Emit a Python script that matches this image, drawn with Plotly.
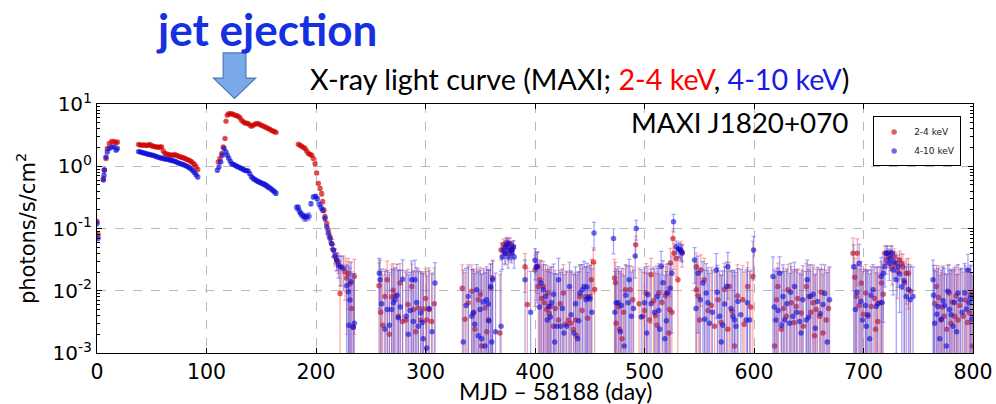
import plotly.graph_objects as go

# ---------------- MAXI light curve, 2-4 keV band ----------------
soft_day = [
    0.0, 1.0,
    5.8, 6.7, 8.2, 9.4, 11.2, 13.4, 15.5, 17.4, 18.6,
    38.0, 39.5, 41.0, 42.5, 44.0, 45.5, 47.0, 48.5, 50.0, 51.5, 53.0, 54.5, 56.0, 57.5, 59.0,
    60.5, 62.0, 63.5, 65.0, 66.5, 68.0, 69.5, 71.0, 72.5, 74.0, 75.5, 77.0, 78.5, 80.0, 81.5,
    83.0, 84.5, 86.0, 87.5, 89.0, 90.5, 92.0,
    110.8, 112.3, 113.9, 115.3, 116.9, 117.8, 119.0, 120.3, 121.7, 123.0, 124.5, 126.0, 127.5,
    129.0, 130.5, 132.0, 133.5, 135.0, 136.5, 138.0, 139.5, 141.0, 142.5, 144.0, 145.5, 147.0,
    148.5, 150.0, 151.5, 153.0, 154.5, 156.0, 157.5, 159.0, 160.5, 162.0, 163.5,
    183.9, 185.4, 186.9, 188.5, 190.0, 191.5, 193.0, 194.6, 196.1, 197.6, 199.1, 200.6, 202.1,
    203.7, 205.2, 206.1, 207.3, 208.2, 209.8, 211.2, 212.8, 214.3, 215.8, 217.4, 218.9, 220.4,
    222.0, 223.5, 226.5, 228.0, 229.5, 231.0, 232.6, 234.0, 235.0,
    257.5, 263.0, 265.0, 267.0, 269.0, 272.0, 275.2, 276.7, 279.0, 282.2, 287.4, 288.9, 293.5,
    295.6, 298.0, 301.1, 303.5, 305.6,
    333.6, 339.1, 342.2, 345.2, 348.2, 351.3, 354.3, 357.4, 359.5, 361.3, 369.0, 371.1, 373.0,
    375.0, 377.2, 379.0, 380.2, 390.9, 400.0, 403.0,
    404.6, 407.6, 408.5, 410.7, 411.5, 414.0, 416.7, 421.5, 425.9, 430.5, 432.8, 435.0, 437.0,
    438.0, 441.0, 446.0, 450.2, 451.5, 453.3,
    472.6, 473.5, 474.1, 477.2, 479.5, 482.8, 486.9, 489.3, 492.0, 498.5, 501.5, 504.6, 506.0,
    508.2, 511.5, 513.0, 519.2, 519.8, 522.2, 522.8, 523.7, 526.0, 527.0, 528.9, 530.5, 533.0, 534.4,
    547.2, 547.3, 550.3, 551.5, 554.5, 564.0, 567.1, 576.0, 577.5, 582.2, 589.7, 594.2, 599.0,
    618.8, 621.8, 624.9, 629.5, 631.0, 634.0, 638.5, 643.1, 645.0, 647.7, 650.0, 653.8, 655.3,
    656.8, 659.9, 663.0, 666.0,
    690.4, 693.5, 694.3, 698.0, 702.0, 704.0, 707.0, 711.0, 714.8, 716.3, 719.4, 721.0, 726.0,
    728.3, 729.6, 733.0, 736.0, 739.1, 741.0,
    766.6, 770.7, 773.7, 778.2, 779.8, 783.3, 786.3, 790.9, 796.9, 799.4,
]
soft_flux = [
    0.13, 0.08,
    0.63, 0.86, 1.33, 1.92, 2.31, 2.5, 2.5, 2.37, 2.45,
    2.23, 2.2, 2.17, 2.2, 2.17, 2.15, 2.2, 2.23, 2.12, 2.09, 2.06, 2.04, 2.02, 2.04, 2.03,
    1.75, 1.6, 1.57, 1.55, 1.52, 1.5, 1.52, 1.53, 1.5, 1.46, 1.42, 1.4, 1.37, 1.34, 1.3,
    1.27, 1.23, 1.19, 1.13, 1.07, 0.98, 0.89,
    1.17, 1.33, 1.6, 2.04, 2.78, 5.3, 6.6, 7.0, 6.9, 7.0, 6.8, 6.6, 6.5,
    6.35, 6.0, 5.5, 5.2, 4.96, 4.9, 4.84, 4.6, 4.39, 4.5, 4.72, 4.8, 4.84,
    4.7, 4.55, 4.45, 4.3, 4.2, 4.05, 3.95, 3.8, 3.7, 3.6, 3.5,
    2.25, 2.17, 2.09, 2.0, 1.92, 1.75, 1.6, 1.55, 1.5, 1.33, 1.1, 0.78, 0.53,
    0.44, 0.36, 0.27, 0.197, 0.154, 0.12, 0.094, 0.073, 0.057, 0.045, 0.035, 0.031, 0.029,
    0.009, 0.024, 0.02, 0.016, 0.019, 0.013, 0.0052, 0.0026, 0.017,
    0.012, 0.0081, 0.015, 0.002, 0.0079, 0.0083, 0.0039, 0.0133, 0.0032, 0.0034, 0.0117, 0.005, 0.0053,
    0.0034, 0.0051, 0.0034, 0.005, 0.0032,
    0.011, 0.0064, 0.0098, 0.0024, 0.0072, 0.0013, 0.0053, 0.0034, 0.011, 0.016, 0.045, 0.055, 0.04,
    0.05, 0.057, 0.045, 0.051, 0.0244, 0.0216, 0.0117,
    0.015, 0.0117, 0.0064, 0.005, 0.0092, 0.0056, 0.0027, 0.0034, 0.0092, 0.0034, 0.003, 0.0024, 0.0034,
    0.0019, 0.0081, 0.0081, 0.0081, 0.015, 0.029,
    0.016, 0.0135, 0.003, 0.0024, 0.0017, 0.0104, 0.0104, 0.0072, 0.055, 0.0039, 0.0092, 0.0034, 0.018,
    0.0069, 0.0028, 0.0092, 0.0083, 0.0092, 0.0021, 0.005, 0.028, 0.069, 0.04, 0.033, 0.015, 0.046, 0.04,
    0.0244, 0.0104, 0.0034, 0.0216, 0.015, 0.0027, 0.0072, 0.0024, 0.0117, 0.0013, 0.0072, 0.0117, 0.0169,
    0.0013, 0.0117, 0.0024, 0.0039, 0.0104, 0.0064, 0.0056, 0.0044, 0.0027, 0.0117, 0.0081, 0.0064, 0.0019,
    0.005, 0.0039, 0.0021, 0.0034,
    0.04, 0.0081, 0.04, 0.0133, 0.0092, 0.0039, 0.0056, 0.0024, 0.0064, 0.0133, 0.04, 0.0313, 0.0244,
    0.0353, 0.0276, 0.0313, 0.0244, 0.0191, 0.0191,
    0.0117, 0.0034, 0.0039, 0.0092, 0.003, 0.0039, 0.0034, 0.0039, 0.0044, 0.0013,
]
soft_err = [
    0.01, 0.01,
    0.04, 0.05, 0.06, 0.08, 0.09, 0.1, 0.1, 0.1, 0.1,
    0.08, 0.08, 0.08, 0.08, 0.08, 0.08, 0.08, 0.08, 0.08, 0.08, 0.08, 0.08, 0.08, 0.08, 0.08,
    0.07, 0.07, 0.07, 0.07, 0.07, 0.07, 0.07, 0.07, 0.07, 0.07, 0.06, 0.06, 0.06, 0.06, 0.06,
    0.06, 0.06, 0.05, 0.05, 0.05, 0.05, 0.05,
    0.06, 0.06, 0.07, 0.08, 0.1, 0.15, 0.15, 0.15, 0.15, 0.15, 0.15, 0.15, 0.15,
    0.15, 0.14, 0.14, 0.13, 0.13, 0.13, 0.13, 0.12, 0.12, 0.12, 0.12, 0.12, 0.12,
    0.12, 0.12, 0.11, 0.11, 0.11, 0.11, 0.1, 0.1, 0.1, 0.1, 0.1,
    0.08, 0.08, 0.08, 0.08, 0.07, 0.07, 0.07, 0.07, 0.07, 0.06, 0.05, 0.04, 0.03,
    0.03, 0.03, 0.02, 0.018, 0.015, 0.013, 0.012, 0.011, 0.01, 0.01, 0.01, 0.01, 0.01,
    0.012, 0.012, 0.013, 0.014, 0.014, 0.015, 0.015, 0.016, 0.015,
    0.016, 0.014, 0.015, 0.016, 0.018, 0.015, 0.017, 0.014, 0.018, 0.016, 0.015, 0.016, 0.017,
    0.016, 0.015, 0.017, 0.016, 0.015,
    0.015, 0.02, 0.016, 0.018, 0.015, 0.017, 0.016, 0.018, 0.016, 0.015, 0.014, 0.013, 0.014,
    0.013, 0.013, 0.014, 0.012, 0.015, 0.016, 0.017,
    0.016, 0.018, 0.015, 0.017, 0.016, 0.018, 0.016, 0.015, 0.017, 0.016, 0.018, 0.017, 0.015,
    0.016, 0.017, 0.016, 0.018, 0.017, 0.02,
    0.016, 0.015, 0.016, 0.018, 0.017, 0.016, 0.015, 0.017, 0.02, 0.016, 0.018, 0.016, 0.015,
    0.017, 0.016, 0.018, 0.016, 0.017, 0.016, 0.018, 0.02, 0.03, 0.018, 0.016, 0.02, 0.016, 0.016,
    0.016, 0.018, 0.017, 0.016, 0.018, 0.017, 0.016, 0.018, 0.017, 0.016, 0.018, 0.017, 0.045,
    0.015, 0.016, 0.018, 0.017, 0.016, 0.018, 0.016, 0.017, 0.018, 0.016, 0.018, 0.017, 0.016,
    0.017, 0.018, 0.016, 0.018,
    0.03, 0.018, 0.028, 0.016, 0.017, 0.018, 0.016, 0.017, 0.018, 0.016, 0.012, 0.013, 0.012,
    0.012, 0.013, 0.012, 0.014, 0.013, 0.014,
    0.014, 0.016, 0.015, 0.017, 0.016, 0.018, 0.015, 0.016, 0.017, 0.016,
]

# further faint 2-4 keV detections in the decay / hard-state period
soft_faint_day = [
    259.0, 261.0, 270.5, 284.0, 291.0, 300.0, 308.0,
    336.0, 344.0, 350.0, 356.0, 368.0, 374.0, 376.0, 378.0, 393.0,
    402.5, 406.0, 413.0, 418.5, 423.0, 428.0, 443.0, 448.0, 454.5,
    476.0, 481.0, 495.0, 500.0, 510.0, 516.0, 525.0,
    549.0, 558.0, 561.0, 570.0, 573.0, 580.0, 585.0, 591.0, 597.0,
    620.5, 627.0, 636.5, 640.0, 652.0, 661.5, 668.0,
    692.0, 696.0, 700.0, 710.0, 713.0, 718.0, 723.0, 725.0, 731.0, 734.5, 737.5, 743.0,
    765.0, 768.5, 772.0, 776.0, 781.0, 784.5, 788.0, 793.0, 795.0, 798.0,
]
soft_faint_flux = [
    0.0045, 0.0028, 0.0102, 0.006, 0.0022, 0.0075, 0.0062,
    0.0035, 0.0045, 0.0088, 0.0022, 0.0021, 0.06, 0.042, 0.048, 0.006,
    0.025, 0.0075, 0.0043, 0.0052, 0.0062, 0.0029, 0.0048, 0.0036, 0.0105,
    0.0055, 0.0045, 0.0062, 0.0048, 0.004, 0.0065, 0.0045,
    0.0082, 0.0048, 0.0058, 0.0031, 0.0105, 0.0047, 0.0082, 0.0029, 0.0055,
    0.0072, 0.0052, 0.0031, 0.0075, 0.0045, 0.0095, 0.0052,
    0.0165, 0.0058, 0.0042, 0.0075, 0.0032, 0.0088, 0.035, 0.041, 0.0205, 0.0275, 0.0135, 0.0098,
    0.0062, 0.0078, 0.0055, 0.0024, 0.0066, 0.0082, 0.0058, 0.0071, 0.0031, 0.0088,
]
soft_faint_err = [
    0.016, 0.015, 0.017, 0.016, 0.018, 0.015, 0.017,
    0.016, 0.018, 0.015, 0.017, 0.016, 0.012, 0.012, 0.012, 0.017,
    0.016, 0.017, 0.018, 0.016, 0.015, 0.017, 0.018, 0.016, 0.017,
    0.016, 0.018, 0.017, 0.015, 0.016, 0.018, 0.017,
    0.017, 0.016, 0.018, 0.015, 0.017, 0.016, 0.018, 0.017, 0.016,
    0.016, 0.018, 0.017, 0.015, 0.016, 0.017, 0.018,
    0.017, 0.016, 0.018, 0.017, 0.016, 0.018, 0.012, 0.012, 0.013, 0.012, 0.014, 0.016,
    0.016, 0.017, 0.018, 0.016, 0.015, 0.017, 0.016, 0.018, 0.017, 0.016,
]

# ---------------- MAXI light curve, 4-10 keV band ----------------
hard_day = [
    0.0, 1.0,
    5.8, 6.4, 6.7, 8.2, 9.4, 11.2, 13.4, 15.5, 17.4, 18.6,
    38.0, 39.5, 41.0, 42.5, 44.0, 45.5, 47.0, 48.5, 50.0, 51.5, 53.0, 54.5, 56.0, 57.5, 59.0,
    60.5, 62.0, 63.5, 65.0, 66.5, 68.0, 69.5, 71.0, 72.5, 74.0, 75.5, 77.0, 78.5, 80.0, 81.5,
    83.0, 84.5, 86.0, 87.5, 89.0, 90.5, 92.0,
    109.9, 111.4, 113.0, 114.4, 116.0, 117.8, 119.0, 120.3, 121.7, 123.0, 124.5, 126.0, 127.5,
    129.0, 130.5, 132.0, 133.5, 135.0, 136.5, 138.0, 139.5, 141.0, 142.5, 144.0, 145.5, 147.0,
    148.5, 150.0, 151.5, 153.0, 154.5, 156.0, 157.5, 159.0, 160.5, 162.0, 163.5,
    182.3, 183.9, 184.8, 186.0, 187.5, 189.0, 190.3, 191.5, 193.6, 195.4, 197.6, 199.7, 201.2,
    203.0, 204.6, 206.1, 208.2, 209.8, 211.2, 212.8, 214.3, 215.8, 217.4, 218.9, 220.5,
    222.0, 225.0, 228.0, 229.5, 230.0, 231.0, 232.0, 234.0, 235.0,
    257.8, 258.5, 263.0, 265.1, 269.1, 270.6, 272.1, 275.2, 279.1, 282.2, 284.3, 287.4, 288.9,
    290.4, 293.5, 295.6, 298.0, 301.1, 308.7,
    334.5, 339.1, 342.2, 343.5, 346.7, 348.2, 349.8, 351.3, 352.8, 354.3, 355.8, 357.4, 359.5,
    360.5, 361.3, 369.0, 370.0, 371.1, 372.5, 374.1, 375.5, 377.2, 378.5, 380.2, 381.0, 390.9,
    400.0, 401.0,
    402.1, 405.5, 407.6, 409.5, 411.2, 412.5, 415.2, 418.0, 419.8, 421.5, 423.5, 426.5, 428.9,
    431.5, 435.5, 438.9, 441.1, 443.3, 444.8, 446.6, 448.5, 450.2, 453.9,
    471.7, 474.1, 476.0, 479.0, 481.4, 485.0, 486.0, 488.0, 491.5, 492.4, 500.0, 503.0, 509.2,
    511.5, 514.0, 515.2, 516.8, 518.5, 521.2, 525.0, 526.5, 529.0, 531.0, 532.0, 533.5, 534.4,
    545.7, 548.8, 553.3, 556.4, 557.9, 559.4, 565.5, 568.6, 570.1, 573.1, 576.1, 580.7, 582.2,
    583.5, 585.3, 592.9, 596.0, 599.6,
    617.3, 620.0, 623.4, 626.5, 628.0, 632.5, 635.5, 637.0, 641.6, 644.6, 647.7, 648.6, 651.4,
    658.0, 663.0, 666.9, 669.0,
    691.0, 692.6, 696.0, 699.0, 701.7, 702.6, 705.6, 708.7, 711.7, 716.0, 718.0, 720.9, 722.0,
    723.6, 726.0, 727.0, 729.9, 731.5, 735.0, 739.0, 742.5, 745.2,
    763.5, 765.0, 768.0, 769.6, 772.7, 775.7, 778.6, 781.8, 786.3, 788.5, 792.4, 795.4, 796.3, 797.8,
]
hard_flux = [
    0.12, 0.07,
    0.6, 0.72, 0.88, 1.41, 1.7, 1.92, 2.04, 2.04, 1.81, 1.92,
    1.72, 1.70, 1.67, 1.64, 1.62, 1.58, 1.56, 1.53, 1.51, 1.49, 1.46, 1.42, 1.39, 1.37, 1.35,
    1.33, 1.31, 1.29, 1.28, 1.26, 1.24, 1.22, 1.2, 1.17, 1.14, 1.11, 1.09, 1.07, 1.04, 1.01,
    0.98, 0.94, 0.9, 0.85, 0.79, 0.73, 0.67,
    0.86, 0.975, 1.17, 1.5, 1.92, 1.7, 1.5, 1.35, 1.2, 1.1, 1.07, 1.04, 1.0,
    0.975, 0.95, 0.92, 0.89, 0.86, 0.85, 0.84, 0.76, 0.68, 0.64, 0.61, 0.59, 0.57,
    0.555, 0.54, 0.525, 0.51, 0.49, 0.47, 0.45, 0.43, 0.41, 0.39, 0.37,
    0.217, 0.217, 0.19, 0.174, 0.163, 0.154, 0.15, 0.154, 0.158, 0.25, 0.32, 0.33, 0.3,
    0.245, 0.217, 0.197, 0.145, 0.106, 0.083, 0.069, 0.057, 0.045, 0.037, 0.031, 0.026,
    0.024, 0.023, 0.012, 0.0096, 0.0028, 0.0071, 0.014, 0.0026, 0.003,
    0.0191, 0.015, 0.0024, 0.005, 0.005, 0.0064, 0.0072, 0.0037, 0.0153, 0.0039, 0.002, 0.015, 0.0032,
    0.015, 0.0027, 0.0044, 0.0017, 0.0012, 0.0133,
    0.0015, 0.0081, 0.0039, 0.0044, 0.0104, 0.0019, 0.005, 0.0017, 0.0066, 0.0013, 0.0072, 0.0061, 0.0117,
    0.0015, 0.015, 0.0027, 0.035, 0.045, 0.04, 0.055, 0.035, 0.045, 0.04, 0.051, 0.035, 0.015,
    0.031, 0.024,
    0.0244, 0.0133, 0.0104, 0.0081, 0.0034, 0.0056, 0.0064, 0.0015, 0.0027, 0.015, 0.0027, 0.0021, 0.0027,
    0.0117, 0.0021, 0.0017, 0.0092, 0.0104, 0.0117, 0.0072, 0.0078, 0.0074, 0.085,
    0.069, 0.0064, 0.0064, 0.0058, 0.0013, 0.0064, 0.015, 0.0039, 0.036, 0.1, 0.0064, 0.0086, 0.0045,
    0.0081, 0.0024, 0.0248, 0.0134, 0.0017, 0.0092, 0.0191, 0.128, 0.051, 0.047, 0.045, 0.043, 0.041,
    0.0313, 0.0191, 0.0133, 0.0092, 0.0064, 0.003, 0.0216, 0.0039, 0.0015, 0.0061, 0.0244, 0.0039, 0.0034,
    0.0027, 0.0067, 0.0034, 0.0034, 0.045,
    0.0169, 0.0034, 0.0191, 0.0081, 0.0034, 0.003, 0.0039, 0.0117, 0.0032, 0.0072, 0.0034, 0.015, 0.0081,
    0.0067, 0.006, 0.0015, 0.0072,
    0.0244, 0.005, 0.0276, 0.0034, 0.0058, 0.0027, 0.0017, 0.0104, 0.0056, 0.0169, 0.0191, 0.04, 0.04,
    0.0276, 0.04, 0.0216, 0.015, 0.0244, 0.0116, 0.0081, 0.0072, 0.0081,
    0.015, 0.003, 0.0056, 0.0017, 0.0069, 0.0013, 0.005, 0.0027, 0.0092, 0.0072, 0.0092, 0.0216, 0.0064, 0.0078,
]
hard_err = [
    0.01, 0.01,
    0.03, 0.04, 0.04, 0.05, 0.06, 0.07, 0.07, 0.07, 0.07, 0.07,
    0.06, 0.06, 0.06, 0.06, 0.06, 0.06, 0.06, 0.06, 0.06, 0.06, 0.06, 0.06, 0.05, 0.05, 0.05,
    0.05, 0.05, 0.05, 0.05, 0.05, 0.05, 0.05, 0.05, 0.05, 0.05, 0.05, 0.04, 0.04, 0.04, 0.04,
    0.04, 0.04, 0.04, 0.04, 0.04, 0.04, 0.04,
    0.04, 0.04, 0.05, 0.06, 0.07, 0.06, 0.06, 0.05, 0.05, 0.05, 0.05, 0.05, 0.05,
    0.05, 0.05, 0.05, 0.05, 0.04, 0.04, 0.04, 0.04, 0.04, 0.04, 0.04, 0.04, 0.04,
    0.04, 0.04, 0.04, 0.04, 0.04, 0.04, 0.03, 0.03, 0.03, 0.03, 0.03,
    0.02, 0.02, 0.02, 0.02, 0.02, 0.02, 0.02, 0.02, 0.02, 0.02, 0.02, 0.02, 0.02,
    0.02, 0.02, 0.018, 0.015, 0.012, 0.011, 0.01, 0.01, 0.01, 0.01, 0.01, 0.01,
    0.012, 0.013, 0.014, 0.015, 0.015, 0.016, 0.015, 0.016, 0.016,
    0.014, 0.016, 0.018, 0.016, 0.017, 0.015, 0.016, 0.018, 0.016, 0.017, 0.016, 0.015, 0.017,
    0.016, 0.018, 0.016, 0.017, 0.016, 0.015,
    0.02, 0.016, 0.018, 0.017, 0.016, 0.018, 0.016, 0.017, 0.016, 0.018, 0.017, 0.016, 0.015,
    0.016, 0.015, 0.018, 0.013, 0.012, 0.013, 0.014, 0.012, 0.013, 0.012, 0.013, 0.012, 0.016,
    0.016, 0.017,
    0.018, 0.017, 0.016, 0.018, 0.017, 0.016, 0.018, 0.017, 0.016, 0.018, 0.017, 0.016, 0.018,
    0.017, 0.016, 0.018, 0.017, 0.016, 0.018, 0.017, 0.016, 0.018, 0.04,
    0.03, 0.016, 0.018, 0.017, 0.016, 0.018, 0.017, 0.016, 0.02, 0.035, 0.017, 0.016, 0.018,
    0.017, 0.016, 0.018, 0.017, 0.016, 0.018, 0.017, 0.04, 0.012, 0.012, 0.012, 0.012, 0.012,
    0.018, 0.017, 0.016, 0.018, 0.017, 0.016, 0.018, 0.017, 0.016, 0.018, 0.017, 0.016, 0.018,
    0.017, 0.016, 0.018, 0.017, 0.03,
    0.018, 0.017, 0.016, 0.018, 0.017, 0.016, 0.018, 0.017, 0.016, 0.018, 0.017, 0.016, 0.018,
    0.017, 0.016, 0.018, 0.017,
    0.03, 0.018, 0.028, 0.017, 0.016, 0.018, 0.017, 0.016, 0.018, 0.017, 0.016, 0.013, 0.012,
    0.013, 0.012, 0.013, 0.014, 0.013, 0.014, 0.016, 0.017, 0.016,
    0.016, 0.018, 0.017, 0.016, 0.018, 0.017, 0.016, 0.018, 0.017, 0.016, 0.018, 0.017, 0.016, 0.018,
]

# further faint 4-10 keV detections in the decay / hard-state period
hard_faint_day = [
    260.0, 267.0, 274.0, 277.0, 286.0, 292.0, 297.0, 303.0, 306.0,
    337.0, 345.0, 358.0, 364.0, 373.0, 376.0, 379.0, 396.0,
    404.0, 414.0, 417.0, 425.0, 433.0, 437.0, 440.0, 447.5, 452.0,
    473.0, 478.0, 483.0, 490.0, 497.0, 502.0, 506.0, 513.0, 520.0, 523.5,
    547.0, 551.0, 555.0, 562.0, 566.5, 571.5, 575.0, 579.0, 588.0, 594.0,
    618.5, 622.0, 625.0, 630.0, 633.5, 639.0, 643.0, 650.0, 654.0, 656.0, 660.5, 664.5,
    694.0, 697.5, 704.0, 707.0, 713.0, 717.0, 719.5, 724.5, 728.0, 733.0, 737.0, 741.0,
    764.0, 767.0, 771.0, 774.0, 777.0, 780.0, 783.0, 785.0, 790.0, 794.0, 799.0,
]
hard_faint_flux = [
    0.0062, 0.0028, 0.0085, 0.0055, 0.0048, 0.0065, 0.0031, 0.0052, 0.0022,
    0.0058, 0.0029, 0.0033, 0.0022, 0.05, 0.058, 0.046, 0.0045,
    0.0055, 0.0038, 0.0088, 0.0052, 0.0041, 0.0062, 0.0033, 0.0115, 0.0045,
    0.0045, 0.0022, 0.0085, 0.0052, 0.0038, 0.0021, 0.0062, 0.0048, 0.0033, 0.011,
    0.0052, 0.0072, 0.0035, 0.0045, 0.0095, 0.0028, 0.0118, 0.0052, 0.0041, 0.0064,
    0.0055, 0.0048, 0.0028, 0.0062, 0.0095, 0.0045, 0.0021, 0.0038, 0.0088, 0.0025, 0.0043, 0.009,
    0.0095, 0.0068, 0.0041, 0.0085, 0.0062, 0.0065, 0.0245, 0.033, 0.029, 0.0185, 0.0145, 0.0105,
    0.0085, 0.0042, 0.0035, 0.0058, 0.0098, 0.0041, 0.0065, 0.0022, 0.0045, 0.0051, 0.0035,
]
hard_faint_err = [
    0.016, 0.017, 0.018, 0.016, 0.015, 0.017, 0.016, 0.018, 0.017,
    0.017, 0.016, 0.018, 0.017, 0.012, 0.012, 0.012, 0.016,
    0.017, 0.016, 0.018, 0.017, 0.016, 0.018, 0.017, 0.016, 0.018,
    0.016, 0.018, 0.017, 0.016, 0.018, 0.017, 0.016, 0.018, 0.017, 0.016,
    0.017, 0.016, 0.018, 0.017, 0.016, 0.018, 0.017, 0.016, 0.018, 0.017,
    0.016, 0.018, 0.017, 0.016, 0.018, 0.017, 0.016, 0.018, 0.017, 0.016, 0.018, 0.017,
    0.016, 0.018, 0.017, 0.016, 0.018, 0.017, 0.013, 0.012, 0.013, 0.014, 0.015, 0.016,
    0.017, 0.016, 0.018, 0.017, 0.016, 0.018, 0.017, 0.016, 0.018, 0.017, 0.016,
]

Y_TICKS = [1e-3, 1e-2, 1e-1, 1e0, 1e1]
Y_TICK_TEXT = ["10<sup>-3</sup>", "10<sup>-2</sup>", "10<sup>-1</sup>", "10<sup>0</sup>", "10<sup>1</sup>"]
X_TICKS = [0, 100, 200, 300, 400, 500, 600, 700, 800]

TICK_FONT = "DejaVu Sans"
TEXT_FONT = "Lato"

fig = go.Figure()

fig.add_trace(go.Scatter(
    x=soft_day + soft_faint_day, y=soft_flux + soft_faint_flux,
    mode="markers", name="2-4 keV",
    marker=dict(color="rgba(205,0,0,0.62)", size=5.5, line=dict(width=0)),
    error_y=dict(type="data", array=soft_err + soft_faint_err, visible=True,
                 color="rgba(240,80,80,0.5)", thickness=1.2, width=2),
))
fig.add_trace(go.Scatter(
    x=hard_day + hard_faint_day, y=hard_flux + hard_faint_flux,
    mode="markers", name="4-10 keV",
    marker=dict(color="rgba(10,10,215,0.6)", size=5.5, line=dict(width=0)),
    error_y=dict(type="data", array=hard_err + hard_faint_err, visible=True,
                 color="rgba(70,70,235,0.5)", thickness=1.2, width=2),
))

fig.update_layout(
    width=996, height=404,
    margin=dict(l=97, r=23, t=104, b=51, autoexpand=False),
    paper_bgcolor="white", plot_bgcolor="white",
    showlegend=True,
    legend=dict(
        x=0.886, y=0.95, xanchor="left", yanchor="top",
        bgcolor="white", bordercolor="black", borderwidth=1,
        font=dict(family=TICK_FONT, size=9, color="#222"),
        itemwidth=30, tracegroupgap=0,
    ),
    font=dict(family=TICK_FONT, color="black"),
)

fig.update_xaxes(
    range=[0, 800], tickvals=X_TICKS, automargin=False,
    ticks="inside", ticklen=5, tickcolor="black",
    showline=True, linecolor="black", linewidth=1, mirror="ticks",
    showgrid=True, gridcolor="#b8b8b8", griddash="dash", gridwidth=1,
    tickfont=dict(family=TICK_FONT, size=20.5, color="black"),
    zeroline=False,
)
fig.update_yaxes(
    type="log", range=[-3, 1], automargin=False,
    tickvals=Y_TICKS, ticktext=Y_TICK_TEXT,
    ticks="inside", ticklen=5, tickcolor="black",
    minor=dict(ticks="inside", ticklen=3, tickcolor="black", dtick="D1", showgrid=False),
    showline=True, linecolor="black", linewidth=1, mirror="ticks",
    showgrid=True, gridcolor="#b8b8b8", griddash="dash", gridwidth=1,
    tickfont=dict(family=TICK_FONT, size=20, color="black"),
    zeroline=False,
)

# titles and labels
fig.add_annotation(
    text="<b>jet ejection</b>", x=0.193, y=1.30, xref="paper", yref="paper",
    xanchor="center", yanchor="middle", showarrow=False,
    font=dict(family=TEXT_FONT, size=44, color="#1530e0"),
)
fig.add_annotation(
    text="X-ray light curve (MAXI; <span style='color:#ff0000'>2-4 keV</span>, "
         "<span style='color:#1a1ae6'>4-10 keV</span>)",
    x=0.862, y=1.10, xref="paper", yref="paper",
    xanchor="right", yanchor="middle", showarrow=False,
    font=dict(family=TEXT_FONT, size=28.7, color="black"),
)
fig.add_annotation(
    text="MAXI J1820+070", x=0.860, y=0.925, xref="paper", yref="paper",
    xanchor="right", yanchor="middle", showarrow=False,
    font=dict(family=TEXT_FONT, size=27.8, color="black"),
)
fig.add_annotation(
    text="MJD \u2013 58188 (day)", x=0.523, y=-0.152, xref="paper", yref="paper",
    xanchor="center", yanchor="middle", showarrow=False,
    font=dict(family=TEXT_FONT, size=23, color="black"),
)
fig.add_annotation(
    text="photons/s/cm<sup>2</sup>", x=-0.081, y=0.498, xref="paper", yref="paper",
    xanchor="center", yanchor="middle", showarrow=False, textangle=-90,
    font=dict(family=TICK_FONT, size=21, color="black"),
)

# block arrow pointing at the jet ejection epoch
fig.add_shape(
    type="path", xref="paper", yref="paper",
    path="M 0.144 1.205 L 0.170 1.205 L 0.170 1.104 L 0.181 1.104 "
         "L 0.157 1.022 L 0.133 1.104 L 0.144 1.104 Z",
    fillcolor="#7aa8e8", line=dict(color="#4a78b8", width=1.2), layer="above",
)

fig.write_html("out.html")
